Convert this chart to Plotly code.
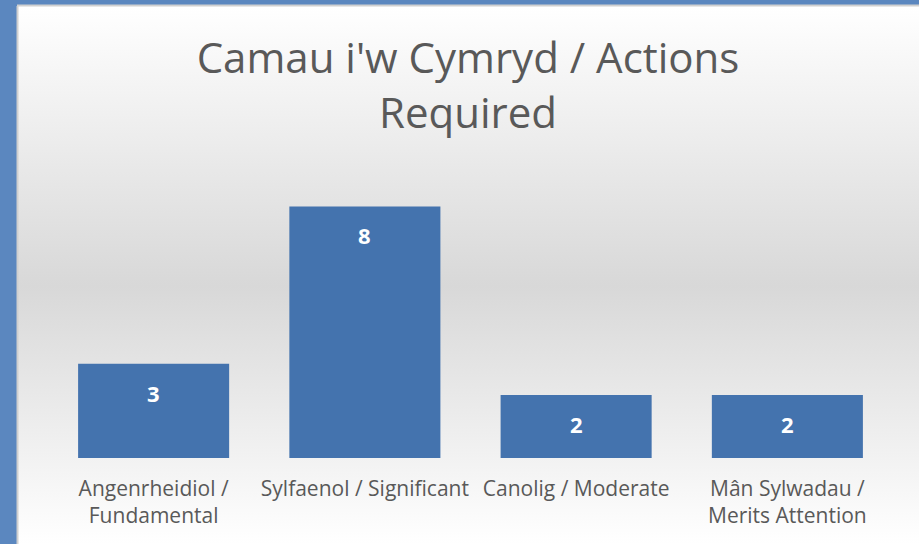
import base64
import plotly.graph_objects as go

categories = ["Angenrheidiol /<br>Fundamental", "Sylfaenol / Significant",
              "Canolig / Moderate", "Mân Sylwadau /<br>Merits Attention"]
values = [3, 8, 2, 2]
title_text = "Camau i'w Cymryd / Actions<br>Required"

W, H = 919, 544
ML, MR, MT, MB = 48, 26, 175, 86
plot_w = W - ML - MR
plot_h = H - MT - MB

svg = ('<svg xmlns="http://www.w3.org/2000/svg" width="100" height="100" preserveAspectRatio="none">'
       '<defs><linearGradient id="g" x1="0" y1="0" x2="0" y2="1">'
       '<stop offset="0" stop-color="#ffffff"/>'
       '<stop offset="0.52" stop-color="#d8d8d8"/>'
       '<stop offset="1" stop-color="#ffffff"/>'
       '</linearGradient></defs>'
       '<rect x="0" y="0" width="100" height="100" fill="url(#g)"/>'
       '</svg>')
src = "data:image/svg+xml;base64," + base64.b64encode(svg.encode()).decode()

def px_to_paper_x(px):
    return (px - ML) / plot_w

def px_to_paper_y(py):
    return (H - MB - py) / plot_h

fx0, fy0 = 17, 6
fig = go.Figure()
fig.add_trace(go.Bar(
    x=categories, y=values,
    marker=dict(color="#4473ae", line=dict(width=0)),
    width=0.715,
    hoverinfo="skip",
))

for c, v in zip(categories, values):
    fig.add_annotation(x=c, y=v, text="<b>%d</b>" % v, showarrow=False,
                       yanchor="middle", yshift=-29,
                       font=dict(family="Open Sans", size=22, color="white"))

fig.add_layout_image(dict(
    source=src, xref="paper", yref="paper",
    x=px_to_paper_x(fx0), y=px_to_paper_y(fy0),
    sizex=(W - fx0) / plot_w, sizey=(H - fy0) / plot_h,
    xanchor="left", yanchor="top", sizing="stretch", layer="below",
))
fig.add_shape(type="line", xref="paper", yref="paper",
              x0=px_to_paper_x(fx0), x1=px_to_paper_x(W),
              y0=px_to_paper_y(fy0 - 0.5), y1=px_to_paper_y(fy0 - 0.5),
              line=dict(color="#d0d0d0", width=2), layer="below")
fig.add_shape(type="line", xref="paper", yref="paper",
              x0=px_to_paper_x(fx0 + 0.5), x1=px_to_paper_x(fx0 + 0.5),
              y0=px_to_paper_y(fy0), y1=px_to_paper_y(H),
              line=dict(color="#d0d0d0", width=2), layer="below")

fig.update_layout(
    width=W, height=H,
    margin=dict(l=ML, r=MR, t=MT, b=MB),
    paper_bgcolor="#5b87bf",
    plot_bgcolor="rgba(0,0,0,0)",
    showlegend=False,
    bargap=0.285,
    title=dict(text=title_text, x=(fx0 + W) / 2 / W, xanchor="center",
               y=1 - 73 / H, yanchor="top", yref="container",
               font=dict(family="Open Sans", size=42, color="#595959")),
    font=dict(family="Open Sans", color="#595959"),
)
fig.update_xaxes(showline=False, showgrid=False, ticks="", zeroline=False,
                 tickfont=dict(family="Open Sans", size=21, color="#595959"),
                 ticklabelstandoff=16)
fig.update_yaxes(range=[0, 9], visible=False, showgrid=False, zeroline=False)

fig.write_html("out.html", config={"displayModeBar": False},
               post_script="document.body.style.margin='0';document.body.style.overflow='hidden';")
